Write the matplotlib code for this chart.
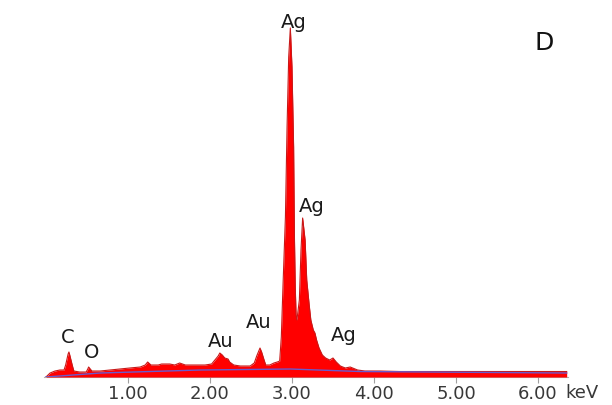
import matplotlib
matplotlib.use('Agg')
import matplotlib.pyplot as plt

plt.rcParams['font.family'] = ['DejaVu Sans']

# EDS spectrum (energy in keV, counts in arbitrary units)
energy = [0.00, 0.05, 0.11, 0.17, 0.22, 0.24, 0.27, 0.28, 0.29, 0.32, 0.34,
          0.41, 0.49, 0.51, 0.52, 0.54, 0.56, 0.66, 0.78, 0.90, 1.02, 1.15,
          1.21, 1.24, 1.28, 1.37, 1.41, 1.51, 1.57, 1.63, 1.70, 1.82, 1.94,
          2.02, 2.06, 2.10, 2.12, 2.15, 2.18, 2.22, 2.24, 2.29, 2.37, 2.49,
          2.54, 2.57, 2.61, 2.63, 2.66, 2.68, 2.73, 2.78, 2.82, 2.85, 2.87,
          2.89, 2.92, 2.94, 2.96, 2.98, 3.00, 3.02, 3.03, 3.04, 3.05, 3.06,
          3.09, 3.11, 3.13, 3.16, 3.18, 3.21, 3.23, 3.26, 3.28, 3.30, 3.33,
          3.37, 3.41, 3.46, 3.50, 3.54, 3.59, 3.65, 3.71, 3.74, 3.80, 3.89,
          4.07, 4.32, 4.93, 5.54, 6.35]
counts = [0, 40, 60, 70, 70, 120, 230, 250, 220, 120, 60,
          50, 50, 80, 100, 80, 60, 60, 70, 80, 90, 100,
          120, 150, 120, 120, 130, 130, 120, 140, 120, 120, 120,
          130, 170, 210, 240, 220, 190, 180, 150, 120, 110, 110,
          140, 210, 290, 250, 170, 120, 120, 140, 150, 160, 400,
          900, 1600, 2500, 3200, 3490, 3100, 2300, 1400, 900, 620, 570,
          770, 1270, 1590, 1370, 970, 720, 570, 470, 440, 370, 290,
          220, 190, 170, 190, 150, 110, 90, 100, 90, 70, 60,
          60, 55, 55, 55, 55]

# fitted background line
bg_energy = [0.00, 0.66, 1.88, 2.98, 3.83, 6.35]
bg_counts = [0, 40, 70, 80, 55, 40]

# element labels: text, energy, counts
labels = ['Ag', 'Ag', 'Ag', 'Au', 'Au', 'C', 'O']
label_e = [3.02, 3.24, 3.63, 2.13, 2.59, 0.27, 0.56]
label_c = [3550, 1710, 420, 360, 550, 400, 250]

ticks = [1, 2, 3, 4, 5, 6]
tick_labels = ['1.00', '2.00', '3.00', '4.00', '5.00', '6.00']

fig = plt.figure(figsize=(6.12, 4.05), dpi=100)
ax = fig.add_axes([0.0719, 0.0691, 0.8562, 0.8815])

ax.fill_between(energy, counts, 0, color='#ff0000', lw=0, zorder=2)
ax.plot(energy, counts, color='#c81818', lw=0.8, zorder=3)
ax.plot(bg_energy, bg_counts, color='#6a5acd', lw=1.0, zorder=4)

for txt, e, c in zip(labels, label_e, label_c):
    ax.text(e, c, txt, ha='center', va='center', fontsize=14, color='#1a1a1a')

ax.text(6.07, 3340, 'D', ha='center', va='center', fontsize=18, color='#111111')

ax.set_xlim(-0.024, 6.366)
ax.set_ylim(0, 3570)
ax.set_xticks(ticks)
ax.set_xticklabels(tick_labels, fontsize=13, color='#383838')
ax.tick_params(axis='x', direction='out', length=4, color='#a0a0a0', pad=1.5)
ax.set_yticks([])
for side in ['left', 'top', 'right']:
    ax.spines[side].set_visible(False)
ax.spines['bottom'].set_color('#b0b0b0')
ax.spines['bottom'].set_zorder(1)

fig.text(565 / 612, 12 / 405, 'keV', ha='left', va='center', fontsize=13, color='#383838')

fig.savefig('out.png', dpi=100)
